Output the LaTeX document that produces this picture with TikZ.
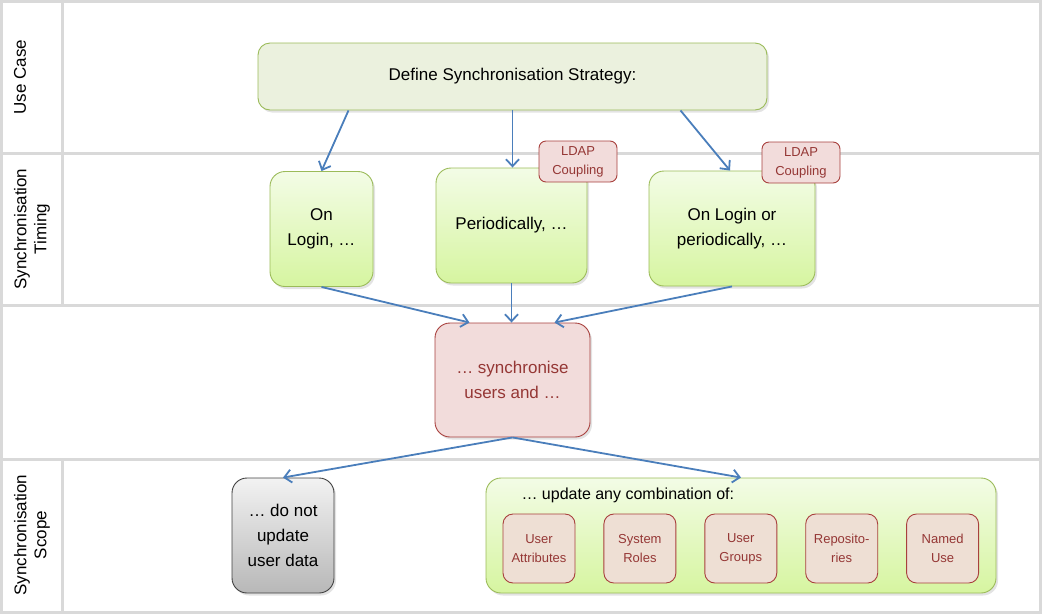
\documentclass[tikz,border=0pt]{standalone}
\usepackage{fontspec}
\setmainfont{Liberation Sans}
\usepackage{tikz}
\usetikzlibrary{positioning,calc,arrows,arrows.meta,shadows}

\definecolor{lanegray}{HTML}{D9D9D9}
\definecolor{flowblue}{HTML}{4A7EBB}
\definecolor{olivefill}{HTML}{EBF1DE}
\definecolor{greenline}{HTML}{9BBB59}
\definecolor{greentop}{HTML}{F3FCE6}
\definecolor{greenbot}{HTML}{D6F5A0}
\definecolor{rosefill}{HTML}{F2DCDB}
\definecolor{roseline}{HTML}{A8403D}
\definecolor{rosetext}{HTML}{953735}
\definecolor{itemfill}{HTML}{EEDFD4}

\tikzset{
	lane/.style={draw=lanegray, line width=3pt},
	lanelabel/.style={rotate=90, align=center, font=\fontsize{17}{20}\selectfont},
	softshadow/.style={drop shadow={opacity=0.22, shadow xshift=2pt, shadow yshift=-2.5pt}},
	strategy/.style={draw=greenline, fill=olivefill, line width=0.9pt, rounded corners=12pt,
		minimum width=509pt, minimum height=67pt, softshadow, font=\fontsize{17}{24}\selectfont},
	timing/.style={draw=greenline, top color=greentop, bottom color=greenbot, line width=0.9pt,
		rounded corners=15pt, minimum height=115pt, align=center, inner sep=0pt, softshadow,
		font=\fontsize{17}{25}\selectfont},
	ldap/.style={draw=roseline, fill=rosefill, text=rosetext, line width=0.9pt, rounded corners=7pt,
		minimum width=78pt, minimum height=41pt, align=center, inner sep=0pt,
		font=\fontsize{13}{19}\selectfont},
	syncbox/.style={draw=roseline, fill=rosefill, text=rosetext, line width=0.9pt, rounded corners=15pt,
		minimum width=155pt, minimum height=114pt, align=center, inner sep=0pt, softshadow,
		font=\fontsize{17}{25}\selectfont},
	grey/.style={draw=black!75, top color=black!5, bottom color=black!28, line width=0.9pt,
		rounded corners=15pt, minimum width=102pt, minimum height=115pt, align=center, inner sep=0pt,
		softshadow, font=\fontsize{17}{25}\selectfont},
	item/.style={draw=roseline, fill=itemfill, text=rosetext, line width=0.9pt, rounded corners=10pt,
		minimum width=72pt, minimum height=69pt, align=center, inner sep=0pt,
		font=\fontsize{13}{19}\selectfont},
	flow/.style={draw=flowblue, line width=1.8pt, -{Straight Barb[length=7pt,width=13pt]}}
}

\begin{document}
\begin{tikzpicture}[x=1pt, y=-1pt]
		\useasboundingbox (0,0) rectangle (1042,614);
		% lanes
		\draw[lane] (1.5,1.5) rectangle (1040.5,612.5);
		\draw[lane] (1.5,153) -- (1040.5,153);
		\draw[lane] (1.5,305) -- (1040.5,305);
		\draw[lane] (1.5,459) -- (1040.5,459);
		\draw[lane] (62,1.5) -- (62,305);
		\draw[lane] (62,459) -- (62,612.5);
		\node[lanelabel] (usecase) at (20,77) {Use Case};
		\node[lanelabel] (timinglabel) at (32,229) {Synchronisation\\Timing};
		\node[lanelabel] (scopelabel) at (32,535) {Synchronisation\\Scope};

		% use case and timing
		\node[strategy] (define) at (512.5,76.5) {Define Synchronisation Strategy:};
		\node[timing, minimum width=103pt] (login) at (321.5,229) {On\\Login, …};
		\node[timing, minimum width=151pt] (periodic) at (511.5,225.5) {Periodically, …};
		\node[timing, minimum width=166pt] (olop) at (732,228.5) {On Login or\\periodically, …};
		\node[ldap] (ldapa) at (578,161.5) {LDAP\\Coupling};
		\node[ldap] (ldapb) at (801,162.5) {LDAP\\Coupling};

		% synchronise and scope
		\node[syncbox] (sync) at (512.5,380) {… synchronise\\users and …};
		\node[grey] (noupdate) at (283,535.5) {… do not\\update\\user data};
		\node[timing, minimum width=510pt] (update) at (741,535.5) {};
		\node[anchor=west, font=\fontsize{16}{20}\selectfont] (updatelabel) at (518,495) {… update any combination of:};
		\node[item] (attributes) at (539,548.5) {User\\Attributes};
		\node[item, right = 28pt of attributes] (roles) {System\\Roles};
		\node[item, right = 28pt of roles] (groups) {User\\Groups};
		\node[item, right = 28pt of groups] (repos) {Reposito-\\ries};
		\node[item, right = 28pt of repos] (nameduse) {Named\\Use};

		\draw[flow] ([xshift=-164pt]define.south) -- (login.north);
		\draw[flow] (define.south) -- (define.south |- periodic.north);
		\draw[flow] ([xshift=168pt]define.south) -- ([xshift=-2pt]olop.north);
		\draw[flow] (login.south) -- ([xshift=-43pt]sync.north);
		\draw[flow] (periodic.south) -- (periodic.south |- sync.north);
		\draw[flow] (olop.south) -- ([xshift=42pt]sync.north);
		\draw[flow] (sync.south) -- (noupdate.north);
		\draw[flow] (sync.south) -- (update.north);
	\end{tikzpicture}
\end{document}
